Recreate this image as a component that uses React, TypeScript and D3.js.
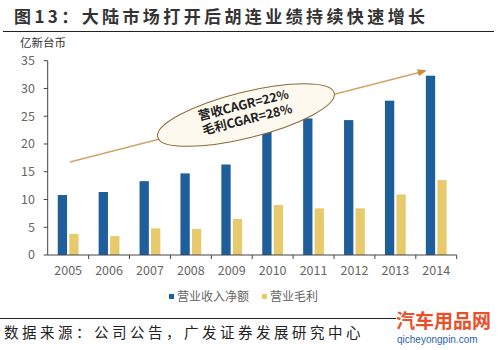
import React from "react";
import * as d3 from "d3";

const years = ["2005","2006","2007","2008","2009","2010","2011","2012","2013","2014"];
const revenue = [10.8, 11.35, 13.3, 14.7, 16.3, 22.4, 24.6, 24.3, 27.8, 32.3];
const grossProfit = [3.8, 3.4, 4.8, 4.7, 6.5, 9.0, 8.4, 8.4, 10.9, 13.5];
const yTicks = [0, 5, 10, 15, 20, 25, 30, 35];
const seriesNames = ["营业收入净额", "营业毛利"];
const title = "图13：大陆市场打开后胡连业绩持续快速增长";
const unit = "亿新台币";
const note1 = "营收CAGR=22%";
const note2 = "毛利CGAR=28%";
const source = "数据来源：公司公告，广发证券发展研究中心";

const BLUE = "#1d5e9b";
const YELLOW = "#e6ca6c";
const FONT = "'Noto Sans CJK SC', 'Open Sans', sans-serif";

export default function App() {
  const W = 500, H = 350;
  const left = 47.7, right = 456.7, top = 60.7, bottom = 255;
  const x = d3.scaleBand().domain(years).range([left, right]);
  const y = d3.scaleLinear().domain([0, 35]).range([bottom, top]);
  const bw = 9.3;
  const gap = 2.2;
  const arrowStart = [70, 162];
  const arrowEnd = [425, 71];
  const angle = -14;
  return (
    <svg width={W} height={H} style={{ position: "absolute", left: 0, top: 0, background: "#fff" }} fontFamily={FONT}>
      <defs>
        <marker id="ah" viewBox="0 0 10 10" refX="8" refY="5" markerWidth="7" markerHeight="7" orient="auto">
          <path d="M0,1 L10,5 L0,9 z" fill="#d08a3a" />
        </marker>
      </defs>
      <rect width={W} height={H} fill="#fff" />
      <text x={14} y={23} fontSize={17} fontWeight="bold" fill="#333" letterSpacing={3.4}>{title}</text>
      <line x1={3} x2={494} y1={31.5} y2={31.5} stroke="#222" strokeWidth={1} />
      <text x={20} y={47} fontSize={11.5} fill="#333">{unit}</text>

      {/* y axis */}
      <line x1={left} x2={left} y1={top} y2={bottom} stroke="#444" />
      {yTicks.map(t => (
        <g key={t}>
          <line x1={left - 4} x2={left} y1={y(t)} y2={y(t)} stroke="#444" />
          <text x={35} y={y(t)} dy="0.35em" textAnchor="end" fontSize={12.5} fill="#666">{t}</text>
        </g>
      ))}
      {/* arrow */}
      <line x1={arrowStart[0]} y1={arrowStart[1]} x2={arrowEnd[0]} y2={arrowEnd[1]} stroke="#d0a36a" strokeWidth={1.3} markerEnd="url(#ah)" />

      {/* bars */}
      {years.map((yr, i) => {
        const c = (x(yr) as number) + x.bandwidth() / 2;
        return (
          <g key={yr}>
            <rect x={c - gap / 2 - bw} y={y(revenue[i])} width={bw} height={bottom - y(revenue[i])} fill={BLUE} />
            <rect x={c + gap / 2} y={y(grossProfit[i])} width={bw} height={bottom - y(grossProfit[i])} fill={YELLOW} />
          </g>
        );
      })}

      {/* ellipse annotation */}
      <g transform={`translate(246,115) rotate(${angle})`}>
        <ellipse cx={0} cy={0} rx={91} ry={23} fill="#fdf9ee" stroke="#8c6a3c" strokeWidth={1} />
        <text x={0} y={-6} textAnchor="middle" fontSize={12.5} fontWeight="bold" fill="#222">{note1}</text>
        <text x={0} y={9} textAnchor="middle" fontSize={12.5} fontWeight="bold" fill="#222">{note2}</text>
      </g>

      {/* x axis */}
      <line x1={left} x2={right} y1={bottom} y2={bottom} stroke="#444" />
      {years.map((yr) => (
        <line key={"t" + yr} x1={(x(yr) as number) + x.bandwidth()} x2={(x(yr) as number) + x.bandwidth()} y1={bottom} y2={bottom + 4} stroke="#444" />
      ))}
      {years.map(yr => (
        <text key={"l" + yr} x={(x(yr) as number) + x.bandwidth() / 2} y={271} dy="0.35em" textAnchor="middle" fontSize={12.5} fill="#666">{yr}</text>
      ))}

      {/* legend */}
      <rect x={169} y={294} width={5} height={5} fill={BLUE} />
      <text x={177} y={297} dy="0.35em" fontSize={12} fill="#666">{seriesNames[0]}</text>
      <rect x={262} y={294} width={5} height={5} fill={YELLOW} />
      <text x={270} y={297} dy="0.35em" fontSize={12} fill="#666">{seriesNames[1]}</text>

      <line x1={0} x2={396} y1={318.5} y2={318.5} stroke="#222" strokeWidth={1} />
      <text x={4} y={338} fontSize={14.5} fill="#222" letterSpacing={3.5}>{source}</text>

      <text x={396} y={328} fontSize={19} fontWeight="bold" fill="#e8502a">汽车用品网</text>
      <text x={397} y={343} fontSize={10} fill="#2a63b0" fontFamily="'Liberation Sans', Arial, sans-serif">qicheyongpin.com</text>
    </svg>
  );
}
